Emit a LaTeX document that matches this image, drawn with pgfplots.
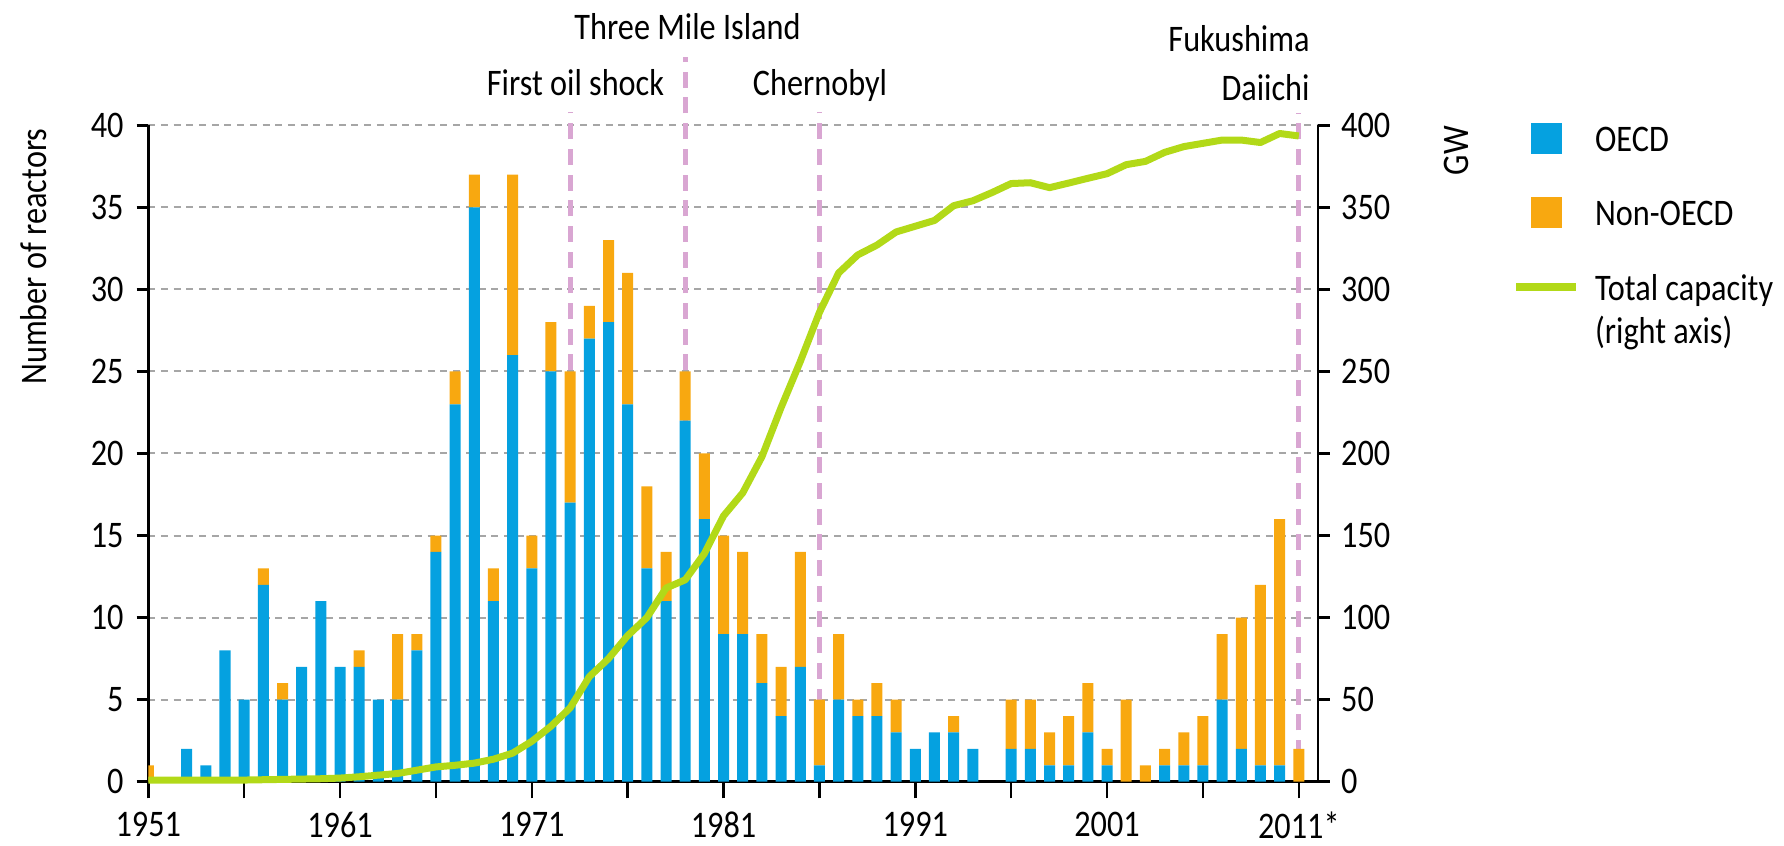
\documentclass[border=0pt]{standalone}
\usepackage{fontspec}
\setmainfont{Carlito}[FakeStretch=0.86]
\usepackage{pgfplots}
\usepackage{pgfplotstable}
\pgfplotsset{compat=1.18}

\definecolor{oecd}{RGB}{5,161,224}
\definecolor{nonoecd}{RGB}{248,168,16}
\definecolor{capgreen}{RGB}{178,217,24}
\definecolor{eventpink}{RGB}{217,166,210}
\definecolor{gridgray}{RGB}{166,166,166}

% reactors connected to the grid per year
\pgfplotstableread{
year oecd non
1951 0 1
1952 0 0
1953 2 0
1954 1 0
1955 8 0
1956 5 0
1957 12 1
1958 5 1
1959 7 0
1960 11 0
1961 7 0
1962 7 1
1963 5 0
1964 5 4
1965 8 1
1966 14 1
1967 23 2
1968 35 2
1969 11 2
1970 26 11
1971 13 2
1972 25 3
1973 17 8
1974 27 2
1975 28 5
1976 23 8
1977 13 5
1978 11 3
1979 22 3
1980 16 4
1981 9 6
1982 9 5
1983 6 3
1984 4 3
1985 7 7
1986 1 4
1987 5 4
1988 4 1
1989 4 2
1990 3 2
1991 2 0
1992 3 0
1993 3 1
1994 2 0
1995 0 0
1996 2 3
1997 2 3
1998 1 2
1999 1 3
2000 3 3
2001 1 1
2002 0 5
2003 0 1
2004 1 1
2005 1 2
2006 1 3
2007 5 4
2008 2 8
2009 1 11
2010 1 15
2011 0 2
}\reactors

% total installed capacity, GW
\pgfplotstableread{
year gw
1951 1
1952 1
1953 1
1954 1
1955 1
1956 1
1957 1.2
1958 1.4
1959 1.6
1960 1.8
1961 2.2
1962 3
1963 4
1964 5
1965 7
1966 9
1967 10
1968 11.3
1969 13.7
1970 17.4
1971 24.6
1972 33.8
1973 45
1974 64
1975 75
1976 89
1977 100
1978 118
1979 123
1980 139
1981 162
1982 176
1983 198
1984 228
1985 256
1986 286
1987 310
1988 321
1989 327
1990 335
1991 338.5
1992 342
1993 351
1994 354
1995 359
1996 364.5
1997 365
1998 362
1999 364.8
2000 367.7
2001 370.5
2002 376
2003 378
2004 383.5
2005 387
2006 389
2007 391
2008 391
2009 389.5
2010 395
2011 393.5
}\capacity

\pgfplotsset{
  base/.style={
    width=584.85pt, height=328.2pt, scale only axis,
    xmin=1951, xmax=2012,
    font=\fontsize{18.75}{21.5}\selectfont,
    axis line style={black, line width=1.3pt},
    tick style={black, line width=1.3pt},
    tick align=outside,
    /pgf/number format/assume math mode=true,
  },
  eventline/.style={forget plot, eventpink, line width=2.5pt,
    dash pattern=on 8pt off 4.85pt},
}

\begin{document}
\begin{tikzpicture}[font=\fontsize{18.75}{21.5}\selectfont]
% grid, left axis and event markers
\begin{axis}[base,
  ymin=0, ymax=40, ytick={0,5,...,40}, xtick=\empty,
  axis x line=none, axis y line*=left,
  major tick length=5.85pt,
  ymajorgrids,
  grid style={gridgray, line width=1pt, dash pattern=on 3.5pt off 2.85pt},
  clip=false,
  ylabel={Number of reactors},
  ylabel style={at={(axis description cs:-0.0869,0.7998)}, anchor=base},
  yticklabel style={xshift=-3pt},
]
\addplot[eventline] coordinates {(1973,0) (1973,40.83)};
\addplot[eventline] coordinates {(1979,0) (1979,44.18)};
\addplot[eventline] coordinates {(1986,0) (1986,40.83)};
\addplot[eventline] coordinates {(2011,0) (2011,40.75)};
\node[anchor=base] at (axis cs:1973.28,41.79) {First oil shock};
\node[anchor=base] at (axis cs:1979.12,45.2) {Three Mile Island};
\node[anchor=base] at (axis cs:1986.03,41.79) {Chernobyl};
\node[anchor=base east] at (axis cs:2011.93,44.49) {Fukushima};
\node[anchor=base east] at (axis cs:2011.93,41.54) {Daiichi};
\end{axis}

% stacked bars and the year axis
\begin{axis}[base,
  ymin=0, ymax=40, ytick=\empty,
  axis y line=none, axis x line*=bottom,
  xtick={1951,1956,...,2011},
  xticklabels={1951,,1961,,1971,,1981,,1991,,2001,,2011*},
  major tick length=8.3pt,
  xticklabel style={inner sep=1pt, yshift=-5.8pt},
  ybar stacked, bar width=0.574,
]
\addplot[fill=oecd, draw=none] table[x=year, y=oecd] {\reactors};
\addplot[fill=nonoecd, draw=none] table[x=year, y=non] {\reactors};
\end{axis}

% capacity line on the right axis
\begin{axis}[base,
  ymin=0, ymax=400, ytick={0,50,...,400}, xtick=\empty,
  axis x line=none, axis y line*=right,
  major tick length=5.85pt,
  clip=false,
  ylabel={GW},
  ylabel style={at={(axis description cs:1.1285,0.9612)}, anchor=base},
  yticklabel style={xshift=2.2pt},
  legend style={at={(1.1656,1.004)}, anchor=north west, draw=none, fill=none,
    inner sep=0pt, row sep=21.65pt, column sep=7.35pt,
    nodes={inner sep=0pt}, cells={align=left}},
  legend cell align=left,
]
\addlegendimage{legend image code/.code={
  \path[draw=none, fill=none] (0pt,0pt) -- (30.15pt,0pt);
  \fill[oecd] (7.65pt,-6.5pt) rectangle (22.65pt,8.5pt);}}
\addlegendentry{OECD}
\addlegendimage{legend image code/.code={
  \path[draw=none, fill=none] (0pt,-8.3pt) -- (30.15pt,-8.3pt);
  \fill[nonoecd] (7.65pt,-6.5pt) rectangle (22.65pt,8.5pt);}}
\addlegendentry{Non-OECD}
\addplot[capgreen, line width=3.5pt, line join=round,
  legend image code/.code={\draw[line width=4pt] (0pt,11.9pt) -- (30.15pt,11.9pt);}]
  table[x=year, y=gw] {\capacity};
\addlegendentry{Total capacity\\(right axis)}
\end{axis}

\pgfresetboundingbox
\path[use as bounding box] (-74.15pt,-32.15pt) rectangle (817.85pt,390.85pt);
\end{tikzpicture}
\end{document}
